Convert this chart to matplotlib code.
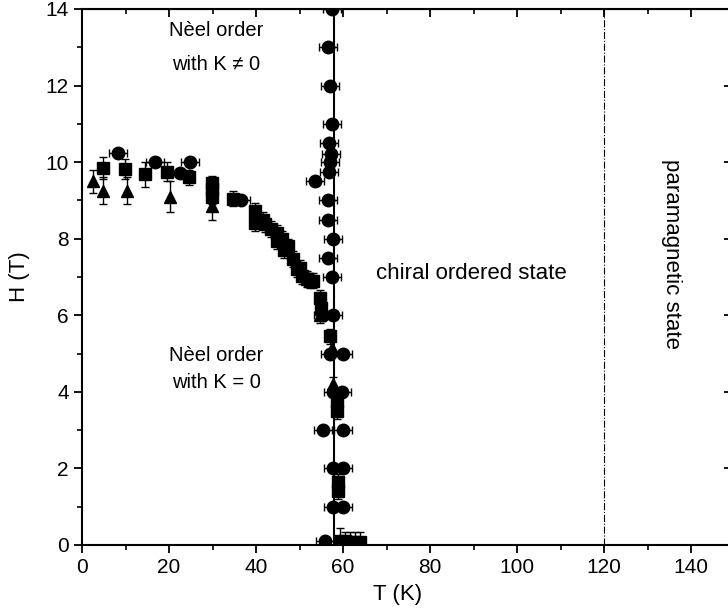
import matplotlib
matplotlib.use("Agg")
import matplotlib.pyplot as plt
from matplotlib.ticker import MultipleLocator

plt.rcParams['font.family'] = ['Liberation Sans', 'DejaVu Sans']

# circles: T (K), H (T), horizontal error bars
circ_T = [8.3, 16.7, 22.5, 24.8, 36.6, 53.6, 57.5, 56.6, 57.0, 57.5, 56.8, 57.2, 57.0, 56.8,
          56.6, 56.6, 57.7, 56.6, 57.5, 55.4, 57.7, 57.0, 60.0, 57.7, 59.7, 55.4, 60.0,
          57.7, 60.0, 57.7, 60.0, 55.9]
circ_H = [10.25, 10.0, 9.72, 10.0, 9.0, 9.5, 14.0, 13.0, 12.0, 11.0, 10.5, 10.2, 10.0, 9.75,
          9.0, 8.5, 8.0, 7.5, 7.0, 6.0, 6.0, 5.0, 5.0, 4.0, 4.0, 3.0, 3.0,
          2.0, 2.0, 1.0, 1.0, 0.1]
circ_err = 2.1

# squares: vertical error bars
sq_T = [4.8, 9.8, 14.5, 19.6, 24.7, 29.9, 29.9, 29.9, 34.7, 39.8, 39.8, 41.5, 42.0, 43.5,
        44.8, 44.8, 46.0, 46.5, 47.4, 48.5, 49.5, 50.1, 50.6, 51.7, 52.5, 53.1, 54.7,
        54.9, 57.0, 58.6, 58.6, 58.9, 58.9, 59.3, 60.5, 61.6, 62.8, 63.9]
sq_H = [9.85, 9.82, 9.68, 9.75, 9.6, 9.45, 9.3, 9.1, 9.05, 8.72, 8.41, 8.5, 8.38, 8.25,
        8.15, 7.94, 8.0, 7.7, 7.8, 7.47, 7.2, 7.24, 7.03, 6.95, 6.9, 6.9, 6.46,
        6.2, 5.45, 3.75, 3.5, 1.65, 1.4, 0.1, 0.1, 0.08, 0.08, 0.08]
sq_err = [0.28, 0.25, 0.32, 0.25, 0.2, 0.2, 0.2, 0.2, 0.2, 0.2, 0.2, 0.2, 0.2, 0.2,
          0.2, 0.2, 0.2, 0.2, 0.2, 0.2, 0.2, 0.2, 0.2, 0.2, 0.2, 0.2, 0.2,
          0.2, 0.2, 0.2, 0.2, 0.2, 0.2, 0.35, 0.25, 0.25, 0.25, 0.25]

# triangles: vertical error bars
tri_T = [2.5, 4.8, 10.3, 20.2, 29.9, 54.8, 57.4, 57.6]
tri_H = [9.5, 9.25, 9.25, 9.1, 8.85, 6.0, 5.15, 4.2]
tri_err = [0.3, 0.35, 0.35, 0.4, 0.35, 0.2, 0.2, 0.2]

T_chiral = 58
T_para = 120

fig = plt.figure(figsize=(7.28, 6.15), dpi=100)
ax = fig.add_axes([82 / 728, 1 - 545 / 615, (734.5 - 82) / 728, (545 - 9) / 615])

ax.axvline(T_chiral, color='k', lw=1.5, zorder=1)
ax.axvline(T_para, color='k', lw=0.8, ls='-.', zorder=1)

ax.errorbar(circ_T, circ_H, xerr=circ_err, fmt='o', color='k', ms=9,
            capsize=3, elinewidth=1, capthick=1, zorder=3)
ax.errorbar(sq_T, sq_H, yerr=sq_err, fmt='s', color='k', ms=8,
            capsize=3, elinewidth=1, capthick=1, zorder=3)
ax.errorbar(tri_T, tri_H, yerr=tri_err, fmt='^', color='k', ms=9,
            capsize=3, elinewidth=1, capthick=1, zorder=3)

ax.set_xlim(0, 150)
ax.set_ylim(0, 14)
ax.xaxis.set_major_locator(MultipleLocator(20))
ax.xaxis.set_minor_locator(MultipleLocator(10))
ax.yaxis.set_major_locator(MultipleLocator(2))
ax.yaxis.set_minor_locator(MultipleLocator(1))
ax.tick_params(which='major', direction='out', length=6, width=1.3, labelsize=15)
ax.tick_params(which='minor', direction='out', length=3.5, width=1.2)
for s in ax.spines.values():
    s.set_linewidth(1.5)

# top / right ticks point inward
top = ax.secondary_xaxis('top')
top.xaxis.set_major_locator(MultipleLocator(20))
top.xaxis.set_minor_locator(MultipleLocator(10))
top.tick_params(which='major', direction='in', length=6, width=1.3, labeltop=False)
top.tick_params(which='minor', direction='in', length=3.5, width=1.2)
right = ax.secondary_yaxis('right')
right.yaxis.set_major_locator(MultipleLocator(2))
right.yaxis.set_minor_locator(MultipleLocator(1))
right.tick_params(which='major', direction='in', length=8, width=1.3, labelright=False)
right.tick_params(which='minor', direction='in', length=4, width=1.2)

ax.set_xlabel('T (K)', fontsize=16)
ax.set_ylabel('H (T)', fontsize=16)
ax.xaxis.set_label_coords((398 - 82) / 652.5, -0.072)
ax.yaxis.set_label_coords(-0.079, 0.5)

ax.text(30.8, 13.45, 'Nèel order', fontsize=14.5, ha='center', va='center')
ax.text(30.8, 12.55, 'with K ≠ 0', fontsize=14.5, ha='center', va='center')
ax.text(30.8, 4.95, 'Nèel order', fontsize=14.5, ha='center', va='center')
ax.text(30.8, 4.25, 'with K = 0', fontsize=14.5, ha='center', va='center')
ax.text(89.5, 7.1, 'chiral ordered state', fontsize=16, ha='center', va='center')
ax.text(135.6, 7.6, 'paramagnetic state', fontsize=16, ha='center', va='center',
        rotation=270)

fig.savefig('out.png', dpi=100)
